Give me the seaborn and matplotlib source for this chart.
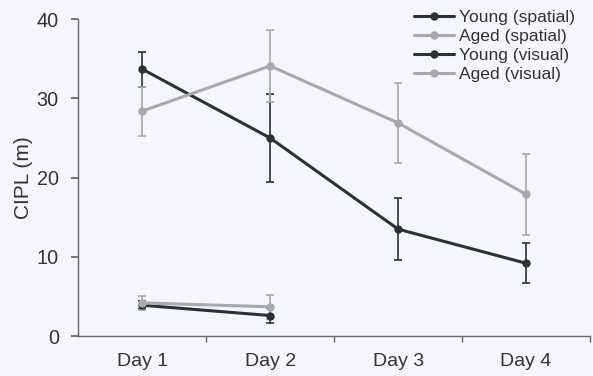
import numpy as np
import pandas as pd
import matplotlib
matplotlib.use("Agg")
import matplotlib.pyplot as plt
import seaborn as sns

days = ["Day 1", "Day 2", "Day 3", "Day 4"]

young_spatial = [33.7, 25.0, 13.5, 9.2]
young_spatial_err = [2.2, 5.5, 3.9, 2.5]
aged_spatial = [28.4, 34.1, 26.9, 17.9]
aged_spatial_err = [3.1, 4.5, 5.0, 5.1]
young_visual = [3.9, 2.6]
young_visual_err = [0.5, 1.0]
aged_visual = [4.2, 3.7]
aged_visual_err = [0.9, 1.5]

groups = ["Young (spatial)", "Aged (spatial)", "Young (visual)", "Aged (visual)"]
dark = "#2c3038"
light = "#a7a9ad"
palette = {groups[0]: dark, groups[1]: light, groups[2]: dark, groups[3]: light}

series = [
    (groups[0], young_spatial, young_spatial_err),
    (groups[1], aged_spatial, aged_spatial_err),
    (groups[2], young_visual, young_visual_err),
    (groups[3], aged_visual, aged_visual_err),
]

rows = []
for name, vals, errs in series:
    for i, (v, e) in enumerate(zip(vals, errs)):
        rows.append({"group": name, "pos": i, "day": days[i], "value": v, "err": e})
df = pd.DataFrame(rows)

sns.set_theme(style="ticks")
plt.rcParams["font.family"] = ["Liberation Sans", "DejaVu Sans"]
bg = "#f5f6f9"
text_c = "#333333"

fig = plt.figure(figsize=(5.93, 3.76), dpi=100, facecolor=bg)
ax = fig.add_axes([0.132, 0.106, 0.863, 0.843], facecolor=bg)

# error bars under the lines
for name, vals, errs in series:
    sub = df[df.group == name]
    ax.errorbar(sub.pos, sub.value, yerr=sub.err, fmt="none",
                ecolor=palette[name], elinewidth=1.2, capsize=3, capthick=1.2, zorder=2)

sns.lineplot(data=df, x="pos", y="value", hue="group", hue_order=groups,
             palette=palette, marker="o", markersize=6, markeredgewidth=0,
             linewidth=2.2, ax=ax, zorder=3)

ax.set_xlim(-0.5, 3.5)
ax.set_ylim(0, 40)
ax.set_yticks([0, 10, 20, 30, 40])
ax.set_xticks(range(len(days)))
ax.set_xticklabels(days)
ax.set_xticks([0.5, 1.5, 2.5, 3.5], minor=True)
ax.tick_params(axis="x", which="major", length=0, pad=12, labelsize=14, labelcolor=text_c)
ax.tick_params(axis="x", which="minor", length=4, color="#666666", direction="out")
ax.tick_params(axis="y", length=5, color="#666666", labelsize=14.3, labelcolor=text_c, pad=9)
ax.set_xlabel("")
ax.set_ylabel("CIPL (m)", fontsize=15, color=text_c, labelpad=3)

for s in ["top", "right"]:
    ax.spines[s].set_visible(False)
for s in ["left", "bottom"]:
    ax.spines[s].set_color("#666666")
    ax.spines[s].set_linewidth(1.0)

leg = ax.legend(loc="upper right", bbox_to_anchor=(0.97, 0.974),
                bbox_transform=fig.transFigure, frameon=False,
                fontsize=12.6, handlelength=2.3, handletextpad=0.3, labelspacing=0.21,
                borderaxespad=0, borderpad=0)
for t in leg.get_texts():
    t.set_color(text_c)

fig.savefig("out.png", dpi=100, facecolor=bg)
